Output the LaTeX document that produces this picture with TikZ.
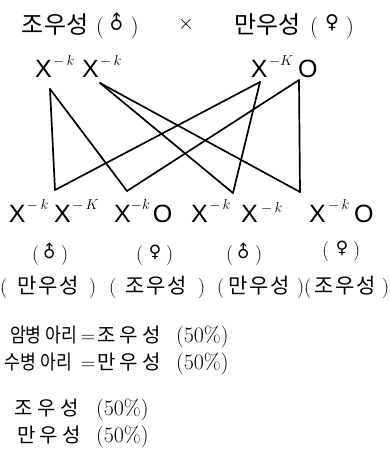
\documentclass[tikz,border=0pt]{standalone}
\usepackage{fontspec}
\usepackage{graphicx}
\newfontfamily\kr{Noto Sans CJK KR}
\newfontfamily\krw{Noto Sans CJK KR}[LetterSpace=10]
\newfontfamily\krx{Noto Sans CJK KR}[LetterSpace=22]
\newfontfamily\krn{Noto Sans CJK KR}[FakeStretch=0.86]
\newfontfamily\dv{DejaVu Sans}
\newfontfamily\ls{Liberation Sans}
\newcommand\male{\rotatebox[origin=c]{45}{\dv ♂}}
\newcommand\female{{\dv ♀}}
\begin{document}
\begin{tikzpicture}[x=1pt,y=-1pt,
  t/.style={inner sep=0pt, outer sep=0pt},
  bw/.style={t, anchor=base west},
  ttl/.style={bw, font=\kr\fontsize{24}{24}\selectfont},
  tp/.style={bw, font=\fontsize{22}{22}\selectfont},
  gx/.style={bw, font=\ls\fontsize{25}{25}\selectfont},
  gs/.style={bw, font=\fontsize{15}{15}\selectfont},
  conn/.style={line width=1.7pt, line join=round, line cap=round},
  par/.style={bw, font=\fontsize{20}{20}\selectfont},
  sym/.style={t, font=\fontsize{17}{17}\selectfont},
  hg/.style={bw, font=\krw\fontsize{21}{21}\selectfont},
  hgb/.style={bw, font=\krx\fontsize{20}{20}\selectfont},
  hgn/.style={bw, font=\krn\fontsize{20}{20}\selectfont},
  pct/.style={bw, font=\fontsize{22}{22}\selectfont},
  eq/.style={t, anchor=base, font=\fontsize{20}{20}\selectfont}]
\useasboundingbox (0,0) rectangle (390,451);
% ---------- title ----------
\node[ttl] (p1) at (22,33) {조우성};
\node[tp] (p1l) at (96,33) {(};
\node[sym, font=\fontsize{19}{19}\selectfont] (p1s) at (117,23) {\male};
\node[tp] (p1r) at (131,33) {)};
\node[t, font=\fontsize{22}{22}\selectfont] (cross) at (186,24) {$\times$};
\node[ttl] (p2) at (234,33) {만우성};
\node[tp] (p2l) at (310,33) {(};
\node[sym, font=\fontsize{19}{19}\selectfont] (p2s) at (332,23) {\female};
\node[tp] (p2r) at (346,33) {)};
% ---------- top genotypes ----------
\node[gx] (ta1) at (35,77) {X};
\node[gs] (ta1s) at (53,65) {$-\,k$};
\node[gx] (ta2) at (82,77) {X};
\node[gs] (ta2s) at (100,65) {$-\,k$};
\node[gx] (tb1) at (251,77) {X};
\node[gs] (tb1s) at (269,65) {$-K$};
\node[gx] (tb2) at (298,77) {O};
% ---------- bottom genotypes ----------
\node[gx] (b1x1) at (9,222) {X};
\node[gs] (b1s1) at (27,209) {$-\,k$};
\node[gx] (b1x2) at (54,222) {X};
\node[gs] (b1s2) at (72,209) {$-\,K$};
\node[gx] (b2x1) at (114,222) {X};
\node[gs] (b2s1) at (131,209) {$-k$};
\node[gx] (b2o) at (153,222) {O};
\node[gx] (b3x1) at (191,222) {X};
\node[gs] (b3s1) at (209,209) {$-\,k$};
\node[gx] (b3x2) at (241,222) {X};
\node[gs] (b3s2) at (261,212) {$-\,k$};
\node[gx] (b4x1) at (309,222) {X};
\node[gs] (b4s1) at (328,209) {$-\,k$};
\node[gx] (b4o) at (354,222) {O};
% ---------- connectors ----------
\coordinate (A) at (50,89);
\coordinate (C) at (100,83);
\coordinate (D) at (260,82);
\coordinate (E) at (299,80);
\coordinate (B1) at (55,190);
\coordinate (B2) at (127,191);
\coordinate (B3) at (233,193);
\coordinate (B4) at (300,192);
\draw[conn] (A) -- (B1);
\draw[conn] (A) -- (B2);
\draw[conn] (C) -- (B3);
\draw[conn] (C) -- (B4);
\draw[conn] (D) -- (B1);
\draw[conn] (D) -- (B3);
\draw[conn] (E) -- (B2);
\draw[conn] (E) -- (B4);
% ---------- sex row ----------
\node[par] (s1l) at (32,260) {(};
\node[sym] (s1) at (50,252) {\male};
\node[par] (s1r) at (61,260) {)};
\node[par] (s2l) at (136,260) {(};
\node[sym] (s2) at (155,252) {\female};
\node[par] (s2r) at (166,260) {)};
\node[par] (s3l) at (226,260) {(};
\node[sym] (s3) at (244,252) {\male};
\node[par] (s3r) at (255,260) {)};
\node[par] (s4l) at (322,256) {(};
\node[sym] (s4) at (342,248) {\female};
\node[par] (s4r) at (353,256) {)};
% ---------- phenotype row ----------
\node[par] (f1l) at (0,293) {(};
\node[hg] (f1) at (17,293) {만우성};
\node[par] (f1r) at (89,293) {)};
\node[par] (f2l) at (109,293) {(};
\node[hg] (f2) at (125,293) {조우성};
\node[par] (f2r) at (198,293) {)};
\node[par] (f3l) at (217,293) {(};
\node[hg] (f3) at (228,293) {만우성};
\node[par] (f3r) at (297,293) {)};
\node[par] (f4l) at (304,293) {(};
\node[hg] (f4) at (314,293) {조우성};
\node[par] (f4r) at (382,293) {)};
% ---------- result lines ----------
\node[hgn] (r1a) at (10,342) {암병 아리};
\node[eq] (r1e) at (88,342) {=};
\node[hgb] (r1b) at (97,342) {조우성};
\node[pct] (r1c) at (176,342) {(50\%)};
\node[hgn] (r2a) at (5,369) {수병 아리};
\node[eq] (r2e) at (88,369) {=};
\node[hgb] (r2b) at (97,369) {만우성};
\node[pct] (r2c) at (176,369) {(50\%)};
\node[hgb] (r3a) at (15,415) {조우성};
\node[pct] (r3c) at (96,415) {(50\%)};
\node[hgb] (r4a) at (17,442) {만우성};
\node[pct] (r4c) at (96,442) {(50\%)};
\end{tikzpicture}
\end{document}
